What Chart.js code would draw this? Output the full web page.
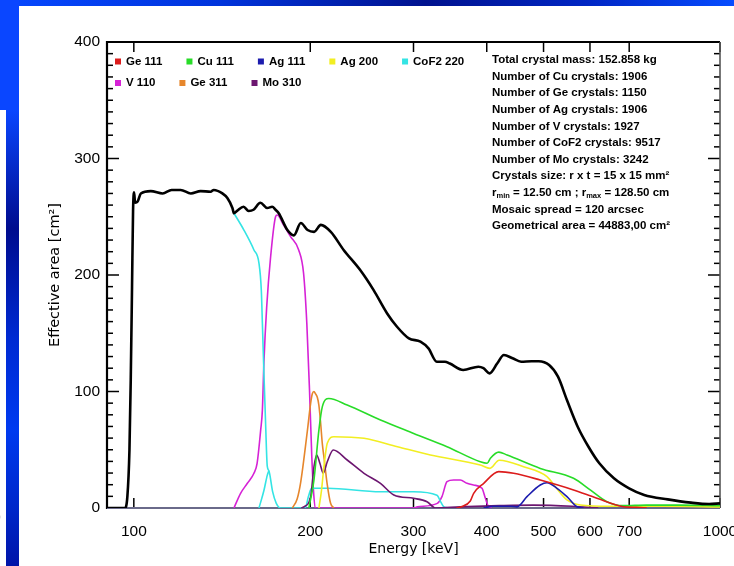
<!DOCTYPE html>
<html>
<head>
<meta charset="utf-8">
<title>Effective area vs energy</title>
<script src="https://cdn.jsdelivr.net/npm/chart.js@4/dist/chart.umd.min.js"></script>
<style>
  html, body { margin: 0; padding: 0; background: #fff; overflow: hidden; }
  #wrap { position: relative; width: 734px; height: 566px; }
  #c { position: absolute; left: 0; top: 0; }
  .band-top { position: absolute; left: 0; top: 0; width: 734px; height: 6px;
    background: linear-gradient(to right, #0648ff 0%, #0034dc 30%, #00128e 58%, #0026c4 80%, #064cff 100%); }
  .band-corner { position: absolute; left: 0; top: 0; width: 19px; height: 110px; background: #0a46ff; }
  .band-left { position: absolute; left: 6px; top: 110px; width: 13px; height: 456px;
    background: linear-gradient(to bottom, #0a46ff 0%, #000c8e 26%, #002ad2 50%, #003af0 70%, #0026c8 88%, #0014a8 100%); }
  .stray { position: absolute; left: -5px; top: 507px; font: 17px "DejaVu Sans"; color: #444; }
</style>
</head>
<body>
<div id="wrap">
  <canvas id="c" width="734" height="566"></canvas>
  <div class="band-top"></div>
  <div class="band-corner"></div>
  <div class="band-left"></div>
  <div class="stray">)</div>
</div>
<script>
// ---- axis ranges and ticks ----
const xMin = 90, xMax = 1000;
const xTickValues = [100, 200, 300, 400, 500, 600, 700, 1000];
const yMin = 0, yMax = 400, yMajorStep = 100, yMinorStep = 10;

// ---- total effective area (keV, cm2) ----
const totalE = [90, 96.5, 97.5, 98.3, 98.8, 99.3, 99.7, 100.1, 100.5, 101.5, 102.8, 106.9, 112, 116, 120.2, 125.1, 130, 135.2, 136.9, 141.6, 144.4, 147.3, 148.2, 150, 153.9, 157, 160, 164.4, 168.9, 172.2, 174.5, 176.7, 182.8, 187.5, 192.7, 197.9, 203, 208.5, 216.8, 228, 243.5, 256.5, 270.5, 281.2, 294.6, 308.3, 318.2, 328.7, 339.4, 346, 364.7, 387.1, 394.9, 404.5, 416.7, 427.9, 442.7, 457.9, 477.2, 490.6, 511.1, 529.2, 548.1, 571.8, 596.5, 622.5, 659.2, 699.7, 742.4, 814.4, 892.2, 958, 1000];
const totalA = [0, 0, 10, 50, 110, 190, 255, 271, 262, 263, 270, 272, 270, 273, 273, 270, 272, 271.5, 273, 270, 266, 257.5, 253, 255, 258.6, 255, 256, 262, 257.5, 258.6, 256, 253, 238.6, 234, 244.6, 238.6, 237, 243, 237, 221.5, 204, 187, 167, 155.6, 145.6, 142.8, 137, 125.6, 125.6, 124, 118.5, 121.3, 120, 115.6, 124, 131.3, 128.5, 125.6, 126, 126, 122.7, 112.7, 92.7, 69.8, 52.6, 38.4, 25.5, 16.9, 11.2, 7.4, 4.6, 3.4, 4];

// ---- single reflections ----
const ge111E = [355, 362, 375, 380, 395.3, 419.3, 444.6, 493.6, 562.5, 616.6, 684.3, 720, 750];
const ge111A = [0, 1, 6, 12.6, 21.2, 31.2, 29.8, 24, 15.5, 8.3, 1.1, 0.5, 0];

const cu111E = [198.9, 202.9, 206.9, 209.7, 215.1, 231.2, 263.5, 300.2, 342.2, 390, 400.6, 405.8, 419.3, 433.3, 493.6, 562.5, 600.6, 641.3, 683.4, 750, 850, 1000];
const cu111A = [0, 24, 67, 87, 94, 88.4, 75.5, 64, 52.6, 39.7, 38.4, 42.7, 48, 45.5, 34, 25.5, 15.5, 5.4, 2, 2.5, 2.5, 2];

const ag111E = [395, 410, 440, 450.6, 468.5, 493.6, 506.8, 527.2, 548.2, 569.9, 585];
const ag111A = [0, 1.5, 1.5, 1, 9.7, 19.7, 21.7, 16.9, 9.7, 1.1, 0];

const ag200E = [206.9, 209, 211, 213.8, 219.4, 247, 281.7, 320.6, 390, 405, 420, 462.3, 506.8, 523.6, 548.2, 577.6, 650, 800, 1000];
const ag200A = [0, 15, 35.4, 55.5, 61.2, 59.8, 52.6, 45.5, 36.9, 34, 41, 35.4, 26.9, 18.3, 6.9, 2.6, 1.5, 1.5, 1];

const cof2E = [148.2, 154.1, 160.3, 163.5, 165.0, 165.7, 166.7, 167.8, 168.9, 170.0, 172.5, 175, 178, 196, 198.6, 201, 214, 263.5, 300, 329, 334, 338, 345];
const cof2A = [253, 238.6, 221.5, 210, 187, 158.5, 115.6, 72.7, 36, 32, 14, 4, 0, 0, 10, 17, 17, 14, 14, 11, 5, 1, 0];
const cof2PeakE = [163.5, 166.7, 168.9, 170.0];
const cof2PeakA = [0, 15, 28, 32];

const v110E = [148.2, 152.1, 156.2, 160.3, 162.3, 164.6, 165.7, 166.7, 168.5, 171.1, 174.5, 175.6, 180, 185.1, 191.1, 194.8, 197.3, 199.4, 201.2, 202.5, 203.9, 300, 304.7, 329.4, 335.6, 342.2, 351.3, 360.6, 370.2, 379.9, 392.6, 397.9, 403.1, 408];
const v110A = [0, 12.6, 21.2, 29.8, 38.4, 67, 84, 125, 172, 215, 250, 251.5, 243, 233, 221.5, 201.5, 158.5, 101, 44, 15.5, 0, 0, 1, 4, 10, 22.6, 24, 24, 21.2, 19.7, 16.9, 8.3, 1, 0];

const ge311E = [186.4, 190, 192.6, 197.7, 200.3, 201.6, 202.9, 204.2, 205.6, 206.9, 208.3, 209.7, 211, 213.8, 216.6, 219.4];
const ge311A = [0, 8, 22, 66, 90, 98, 100, 98, 95, 88, 73, 55, 44, 20, 4, 0];

const mo310E = [193, 195, 200.3, 202.9, 205.1, 207.7, 210.5, 213.8, 218.9, 231.2, 247, 263.5, 277.7, 300.2, 316.4, 326.9, 360, 420, 480, 560, 620];
const mo310A = [0, 1, 9.7, 35.4, 45.5, 38.4, 29.8, 39.7, 49.8, 41.2, 29.8, 21.2, 11.2, 8.3, 5.4, 0, 1, 2, 2.5, 1.5, 0];

// ---- legend layout (two rows) ----
const legendRows = [
  ['Ge 111', 'Cu 111', 'Ag 111', 'Ag 200', 'CoF2 220'],
  ['V 110', 'Ge 311', 'Mo 310']
];

// ---- lens parameters printed in the upper right ----
const infoLines = [
  [{ t: 'Total crystal mass: 152.858 kg' }],
  [{ t: 'Number of Cu crystals: 1906' }],
  [{ t: 'Number of Ge crystals: 1150' }],
  [{ t: 'Number of Ag crystals: 1906' }],
  [{ t: 'Number of V crystals: 1927' }],
  [{ t: 'Number of CoF2 crystals: 9517' }],
  [{ t: 'Number of Mo crystals: 3242' }],
  [{ t: 'Crystals size: r x t = 15 x 15 mm²' }],
  [{ t: 'r' }, { t: 'min', sub: true }, { t: ' = 12.50 cm ; r' }, { t: 'max', sub: true }, { t: ' = 128.50 cm' }],
  [{ t: 'Mosaic spread = 120 arcsec' }],
  [{ t: 'Geometrical area = 44883,00 cm²' }]
];

// ---- styling of each curve ----
const COLORS = {
  'Total': '#000000',
  'Ge 111': '#dc1c1c',
  'Cu 111': '#28dc28',
  'Ag 111': '#1c1cae',
  'Ag 200': '#f2ee22',
  'CoF2 220': '#34e4e4',
  'V 110': '#d622d6',
  'Ge 311': '#e6862c',
  'Mo 310': '#6c1670'
};

const pairs = (e, a) => e.map((v, i) => ({ x: v, y: a[i] }));

function lineSet(label, e, a, width) {
  return {
    label,
    data: pairs(e, a),
    borderColor: COLORS[label],
    backgroundColor: COLORS[label],
    borderWidth: width,
    pointRadius: 0,
    fill: false,
    cubicInterpolationMode: 'monotone'
  };
}

const datasets = [
  lineSet('Total', totalE, totalA, 2.6),
  lineSet('Ge 111', ge111E, ge111A, 1.6),
  lineSet('Cu 111', cu111E, cu111A, 1.6),
  lineSet('Ag 111', ag111E, ag111A, 1.6),
  lineSet('Ag 200', ag200E, ag200A, 1.6),
  lineSet('Mo 310', mo310E, mo310A, 1.6),
  lineSet('Ge 311', ge311E, ge311A, 1.6),
  lineSet('CoF2 220', cof2E, cof2A, 1.6),
  lineSet('CoF2 220', cof2PeakE, cof2PeakA, 1.6),
  lineSet('V 110', v110E, v110A, 1.6)
];

const SMALL_FONT = "bold 11.5px 'Liberation Sans', Arial, sans-serif";
const SUB_FONT = "bold 7.5px 'Liberation Sans', Arial, sans-serif";

// Frame with inward ticks on all four sides, drawn under the curves.
const framePlugin = {
  id: 'frame',
  beforeDatasetsDraw(chart) {
    const { ctx, chartArea: a, scales: { x, y } } = chart;
    ctx.save();
    const seg = (x1, y1, x2, y2) => { ctx.beginPath(); ctx.moveTo(x1, y1); ctx.lineTo(x2, y2); ctx.stroke(); };
    ctx.strokeStyle = '#000';
    ctx.lineWidth = 1.5;
    xTickValues.forEach(v => {
      const px = x.getPixelForValue(v);
      seg(px, a.bottom, px, a.bottom - 10);
      seg(px, a.top, px, a.top + 10);
    });
    for (let v = yMin; v <= yMax; v += yMinorStep) {
      const py = y.getPixelForValue(v);
      const len = v % yMajorStep === 0 ? 12 : 6;
      seg(a.left, py, a.left + len, py);
      seg(a.right, py, a.right - len, py);
    }
    ctx.lineWidth = 2.2;
    seg(a.left, a.top, a.right, a.top);
    seg(a.left, a.top - 1, a.left, a.bottom + 1);
    ctx.strokeStyle = '#555';
    ctx.lineWidth = 1.6;
    seg(a.right, a.top, a.right, a.bottom);
    ctx.strokeStyle = '#6a6a8a';
    ctx.lineWidth = 2;
    seg(a.left, a.bottom, a.right, a.bottom);
    ctx.restore();
  }
};

// Legend boxes and the parameter list, drawn over the plot.
const notesPlugin = {
  id: 'notes',
  afterDatasetsDraw(chart) {
    const { ctx } = chart;
    ctx.save();
    ctx.font = SMALL_FONT;
    ctx.textBaseline = 'middle';
    ctx.fillStyle = '#000';
    const rowY = [61.5, 83];
    legendRows.forEach((row, r) => {
      let xPos = 115;
      row.forEach(label => {
        ctx.fillStyle = COLORS[label];
        ctx.fillRect(xPos, rowY[r] - 3, 6, 6);
        ctx.fillStyle = '#000';
        ctx.font = SMALL_FONT;
        ctx.fillText(label, xPos + 11, rowY[r]);
        xPos += 11 + ctx.measureText(label).width + 24;
      });
    });
    infoLines.forEach((parts, i) => {
      let xPos = 492;
      const yPos = 60 + i * 16.6;
      parts.forEach(p => {
        ctx.font = p.sub ? SUB_FONT : SMALL_FONT;
        ctx.fillText(p.t, xPos, yPos + (p.sub ? 3 : 0));
        xPos += ctx.measureText(p.t).width;
      });
    });
    ctx.restore();
  }
};

Chart.defaults.font.family = "'Liberation Sans', Arial, sans-serif";
Chart.defaults.color = '#000';

new Chart(document.getElementById('c'), {
  type: 'line',
  data: { datasets },
  options: {
    responsive: false,
    devicePixelRatio: 1,
    animation: false,
    parsing: true,
    layout: { padding: { top: 42, right: 14, bottom: 0, left: 0 } },
    plugins: { legend: { display: false }, tooltip: { enabled: false } },
    scales: {
      x: {
        type: 'logarithmic',
        min: xMin,
        max: xMax,
        grid: { display: false, drawTicks: false },
        border: { display: false },
        ticks: {
          autoSkip: false,
          maxRotation: 0,
          padding: 14,
          font: { size: 15.5 },
          callback: v => String(v)
        },
        afterBuildTicks: scale => { scale.ticks = xTickValues.map(v => ({ value: v })); },
        afterFit: scale => { scale.height = 58; scale.paddingLeft = 0; scale.paddingRight = 0; },
        title: {
          display: true,
          text: 'Energy [keV]',
          font: { family: "'DejaVu Sans', sans-serif", size: 14 },
          padding: { top: 0, bottom: 8 }
        }
      },
      y: {
        type: 'linear',
        min: yMin,
        max: yMax,
        grid: { display: false, drawTicks: false },
        border: { display: false },
        ticks: { stepSize: yMajorStep, padding: 7, font: { size: 15.5 } },
        afterFit: scale => { scale.width = 107; },
        title: {
          display: true,
          text: 'Effective area [cm²]',
          font: { family: "'DejaVu Sans', sans-serif", size: 14.5 },
          padding: { top: 47, bottom: 0 }
        }
      }
    }
  },
  plugins: [framePlugin, notesPlugin]
});
</script>
</body>
</html>
